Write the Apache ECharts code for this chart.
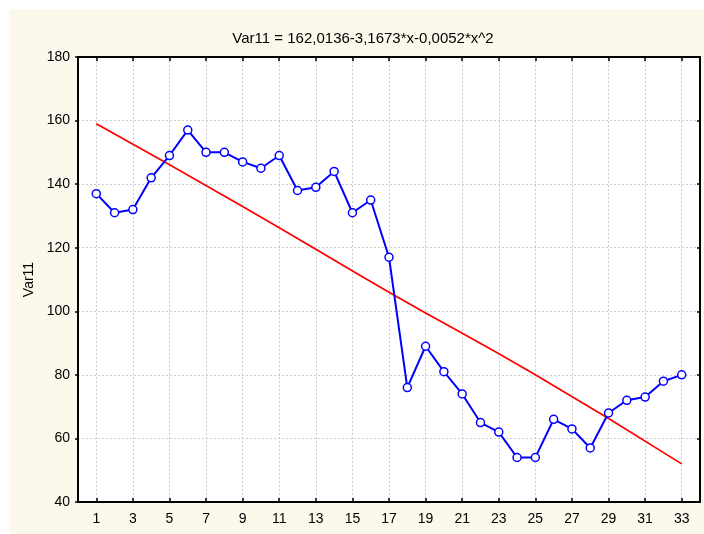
<!DOCTYPE html>
<html>
<head>
<meta charset="utf-8">
<script src="https://cdn.jsdelivr.net/npm/echarts@6/dist/echarts.min.js"></script>
<style>
  html,body{margin:0;padding:0;background:#fff;}
  #main{width:704px;height:534px;}
</style>
</head>
<body>
<div id="main"></div>
<script>
// x positions 1..33, axis runs 0..34
var xValues = [1,2,3,4,5,6,7,8,9,10,11,12,13,14,15,16,17,18,19,20,21,22,23,24,25,26,27,28,29,30,31,32,33]
var var11 = [137,131,132,142,149,157,150,150,147,145,149,138,139,144,131,135,117,76,89,81,74,65,62,54,54,66,63,57,68,72,73,78,80]
// fitted curve
var fitX = [1,9,17,25,33]
var fitY = [159,133,106,80,52]
var yTicks = [40,60,80,100,120,140,160,180]
var titleText = 'Var11 = 162,0136-3,1673*x-0,0052*x^2'

var cats = []
for (var i = 0; i <= 34; i++) cats.push(String(i))
var oddTick = function(idx){ return idx % 2 === 1 && idx < 34 }

var lineData = xValues.map(function(x,i){ return [String(x), var11[i]] })
var fitData = fitX.map(function(x,i){ return [String(x), fitY[i]] })

var font = 'Liberation Sans, Arial, sans-serif'
var myChart = echarts.init(document.getElementById('main'))
myChart.setOption({
    backgroundColor:'#fff',
    animation:false,
    graphic:[{
        type:'rect', z:-10,
        shape:{x:9,y:9,width:695,height:525},
        style:{fill:'#fdf8ec'}
    },{
        type:'rect', z:-9,
        shape:{x:78,y:57,width:622,height:445},
        style:{fill:'#fff'}
    }],
    title:{
        text:titleText,
        left:358, top:26, textAlign:'center',
        textStyle:{fontFamily:font,fontSize:15,fontWeight:'normal',color:'#000'}
    },
    grid:{left:78,right:4,top:57,bottom:32},
    xAxis:[{
        type:'category',
        data:cats,
        boundaryGap:false,
        axisLine:{lineStyle:{color:'#000',width:2}},
        axisTick:{inside:true,length:4,interval:oddTick,lineStyle:{color:'#000',width:1.5}},
        axisLabel:{interval:oddTick,margin:10,color:'#000',fontSize:14,fontFamily:font},
        splitLine:{show:true,interval:oddTick,lineStyle:{color:'#cccccc',type:[2,2],width:1}}
    },{
        type:'category',
        data:cats,
        position:'top',
        boundaryGap:false,
        axisLine:{lineStyle:{color:'#000',width:2}},
        axisTick:{inside:true,length:4,interval:oddTick,lineStyle:{color:'#000',width:1.5}},
        axisLabel:{show:false}
    }],
    yAxis:[{
        type:'value',
        min:40, max:180, interval:20,
        name:'Var11',
        nameLocation:'middle',
        nameGap:40,
        nameTextStyle:{color:'#000',fontSize:14,fontFamily:font},
        axisLine:{show:true,lineStyle:{color:'#000',width:2}},
        axisTick:{show:true,length:3,lineStyle:{color:'#000',width:1.5}},
        axisLabel:{color:'#000',fontSize:14,fontFamily:font,margin:8},
        splitLine:{show:true,lineStyle:{color:'#cccccc',type:[2,2],width:1}}
    },{
        type:'value',
        min:40, max:180, interval:20,
        position:'right',
        axisLine:{show:true,lineStyle:{color:'#000',width:2}},
        axisTick:{show:true,inside:true,length:3,lineStyle:{color:'#000',width:1.5}},
        axisLabel:{show:false},
        splitLine:{show:false}
    }],
    series:[{
        name:'fit',
        type:'line',
        data:fitData,
        smooth:true,
        showSymbol:false,
        lineStyle:{color:'#ff0000',width:1.7},
        z:2
    },{
        name:'Var11',
        type:'line',
        data:lineData,
        symbol:'circle',
        symbolSize:8,
        itemStyle:{color:'#fff',borderColor:'#0000ff',borderWidth:1.5},
        lineStyle:{color:'#0000ff',width:2},
        z:3
    }]
})
</script>
</body>
</html>
